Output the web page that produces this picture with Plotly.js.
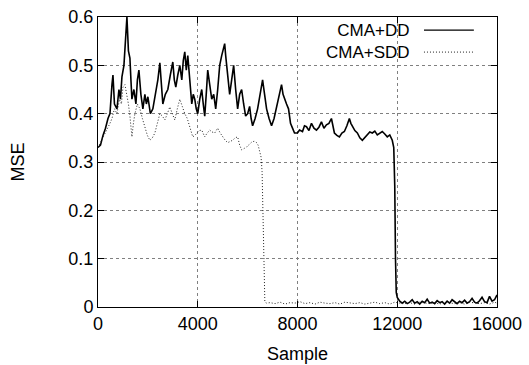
<!DOCTYPE html>
<html>
<head>
<meta charset="utf-8">
<script src="https://cdn.plot.ly/plotly-3.0.1.min.js"></script>
<style>html,body{margin:0;padding:0;background:#fff;}#chart{width:529px;height:365px;}</style>
</head>
<body>
<div id="chart"></div>
<script>
const seriesNames = ["CMA+DD", "CMA+SDD"];

const ddX = [0,100,200,300,400,480,560,600,660,760,840,900,960,1040,1100,1160,1220,1280,1320,1360,1440,1520,1580,1640,1720,1800,1880,1940,2000,2100,2200,2300,2400,2480,2540,2600,2700,2800,2900,3000,3060,3120,3200,3280,3360,3420,3480,3540,3600,3680,3760,3820,3880,3940,4000,4080,4160,4220,4280,4340,4400,4480,4560,4640,4720,4800,4880,4960,5080,5120,5160,5220,5280,5360,5440,5520,5600,5680,5760,5840,5920,6000,6080,6140,6200,6300,6400,6500,6600,6680,6760,6860,6960,7060,7160,7260,7360,7420,7480,7560,7640,7720,7800,7880,8000,8080,8200,8280,8360,8460,8560,8660,8760,8860,8960,9060,9160,9260,9360,9420,9480,9580,9680,9780,9880,9980,10080,10140,10200,10300,10400,10500,10600,10700,10800,10900,11000,11100,11200,11300,11400,11500,11600,11700,11800,11860,11900,11930,11960,12000,12100,12200,12300,12400,12500,12600,12700,12800,12900,13000,13100,13200,13300,13400,13500,13600,13700,13800,13900,14000,14100,14200,14300,14400,14500,14600,14700,14800,14900,15000,15100,15200,15300,15400,15500,15600,15700,15800,15900,16000];
const ddY = [0.330,0.335,0.355,0.370,0.390,0.400,0.460,0.480,0.420,0.410,0.450,0.430,0.476,0.500,0.550,0.600,0.530,0.515,0.470,0.430,0.450,0.420,0.470,0.490,0.440,0.410,0.440,0.420,0.435,0.400,0.410,0.440,0.470,0.505,0.460,0.420,0.440,0.450,0.480,0.507,0.470,0.455,0.480,0.500,0.470,0.510,0.528,0.490,0.520,0.460,0.420,0.440,0.430,0.410,0.400,0.430,0.450,0.420,0.395,0.440,0.490,0.460,0.430,0.440,0.410,0.450,0.500,0.520,0.545,0.520,0.500,0.470,0.440,0.470,0.500,0.450,0.410,0.440,0.450,0.420,0.395,0.400,0.415,0.390,0.375,0.390,0.410,0.440,0.470,0.440,0.410,0.390,0.375,0.390,0.415,0.440,0.460,0.440,0.430,0.420,0.410,0.380,0.370,0.360,0.360,0.366,0.363,0.375,0.373,0.365,0.380,0.370,0.366,0.372,0.383,0.370,0.377,0.380,0.390,0.370,0.360,0.355,0.352,0.360,0.363,0.375,0.390,0.380,0.373,0.365,0.360,0.350,0.345,0.350,0.356,0.362,0.360,0.364,0.356,0.360,0.363,0.358,0.352,0.356,0.345,0.330,0.250,0.100,0.030,0.020,0.012,0.008,0.012,0.007,0.010,0.015,0.008,0.011,0.006,0.012,0.009,0.016,0.008,0.010,0.007,0.013,0.009,0.011,0.006,0.012,0.008,0.015,0.010,0.007,0.012,0.009,0.014,0.008,0.011,0.018,0.010,0.008,0.013,0.020,0.011,0.009,0.022,0.012,0.015,0.025];

const sddX = [0,100,200,300,400,480,560,660,760,860,940,1000,1080,1160,1220,1280,1320,1360,1420,1480,1580,1680,1780,1880,1980,2080,2180,2280,2380,2480,2580,2680,2780,2880,2980,3080,3180,3280,3380,3480,3580,3680,3740,3800,3880,3960,4060,4160,4220,4280,4380,4480,4580,4680,4740,4800,4900,5000,5100,5200,5300,5400,5500,5600,5680,5760,5860,5960,6060,6160,6260,6360,6420,6480,6540,6580,6610,6640,6660,6690,6750,6900,7100,7300,7500,7700,7900,8100,8300,8500,8700,8900,9100,9300,9500,9700,9900,10100,10300,10500,10700,10900,11100,11300,11500,11700,11900,12100,12300,12500,12700,12900,13100,13300,13500,13700,13900,14100,14300,14500,14700,14900,15100,15300,15500,15700,15900,16000];
const sddY = [0.330,0.340,0.350,0.360,0.370,0.380,0.390,0.410,0.400,0.430,0.420,0.455,0.460,0.440,0.420,0.395,0.370,0.352,0.380,0.400,0.420,0.410,0.390,0.373,0.355,0.345,0.350,0.360,0.380,0.400,0.395,0.387,0.400,0.414,0.400,0.387,0.410,0.430,0.415,0.400,0.390,0.373,0.360,0.352,0.355,0.360,0.365,0.366,0.360,0.352,0.360,0.366,0.362,0.360,0.365,0.370,0.360,0.352,0.345,0.340,0.342,0.345,0.350,0.352,0.335,0.325,0.328,0.331,0.336,0.341,0.343,0.340,0.335,0.325,0.310,0.280,0.200,0.100,0.030,0.012,0.008,0.009,0.007,0.010,0.006,0.009,0.008,0.011,0.007,0.009,0.006,0.010,0.008,0.007,0.009,0.006,0.010,0.008,0.007,0.009,0.006,0.008,0.010,0.007,0.009,0.006,0.010,0.008,0.007,0.009,0.006,0.010,0.008,0.007,0.009,0.006,0.010,0.008,0.007,0.009,0.006,0.010,0.008,0.007,0.009,0.006,0.010,0.008];

const xTicks = [0, 4000, 8000, 12000, 16000];
const yTicks = [0, 0.1, 0.2, 0.3, 0.4, 0.5, 0.6];

const FONT = 'Liberation Sans, Arial, Helvetica, sans-serif';

const traces = [
  {x: ddX, y: ddY, mode: 'lines', name: seriesNames[0], line: {color: '#000', width: 1.6}, showlegend: false},
  {x: sddX, y: sddY, mode: 'lines', name: seriesNames[1], line: {color: '#222', width: 1, dash: '1px,2px'}, showlegend: false}
];

const axisCommon = {
  showline: true, linecolor: '#000', linewidth: 1, mirror: 'ticks',
  ticks: 'inside', ticklen: 6, tickcolor: '#000',
  showgrid: true, gridcolor: '#808080', gridwidth: 1, griddash: 'dot',
  zeroline: false, tickfont: {family: FONT, size: 18, color: '#000'}
};

const layout = {
  width: 529, height: 365,
  margin: {l: 98, r: 32, t: 17, b: 58},
  paper_bgcolor: '#fff', plot_bgcolor: '#fff',
  font: {family: FONT, size: 18, color: '#000'},
  xaxis: Object.assign({}, axisCommon, {
    range: [0, 16000], tickvals: xTicks, ticktext: xTicks.map(String),
    title: {text: 'Sample', font: {family: FONT, size: 18}, standoff: 14}
  }),
  yaxis: Object.assign({}, axisCommon, {
    range: [0, 0.6], tickvals: yTicks, ticktext: yTicks.map(v => String(v)),
    title: {text: 'MSE', font: {family: FONT, size: 18}, standoff: 39}
  }),
  annotations: [
    {xref: 'paper', yref: 'paper', x: 0.787, y: 0.917, xanchor: 'right', yanchor: 'middle', align: 'right',
     text: seriesNames[0] + '<br>' + seriesNames[1], showarrow: false, font: {family: FONT, size: 17}}
  ],
  shapes: [
    {type: 'line', xref: 'paper', yref: 'paper', x0: 0.817, x1: 0.942, y0: 0.955, y1: 0.955, line: {color: '#000', width: 1.3}},
    {type: 'line', xref: 'paper', yref: 'paper', x0: 0.817, x1: 0.942, y0: 0.879, y1: 0.879, line: {color: '#222', width: 1, dash: '1px,2px'}}
  ]
};

Plotly.newPlot('chart', traces, layout, {displayModeBar: false, staticPlot: true});
</script>
</body>
</html>
